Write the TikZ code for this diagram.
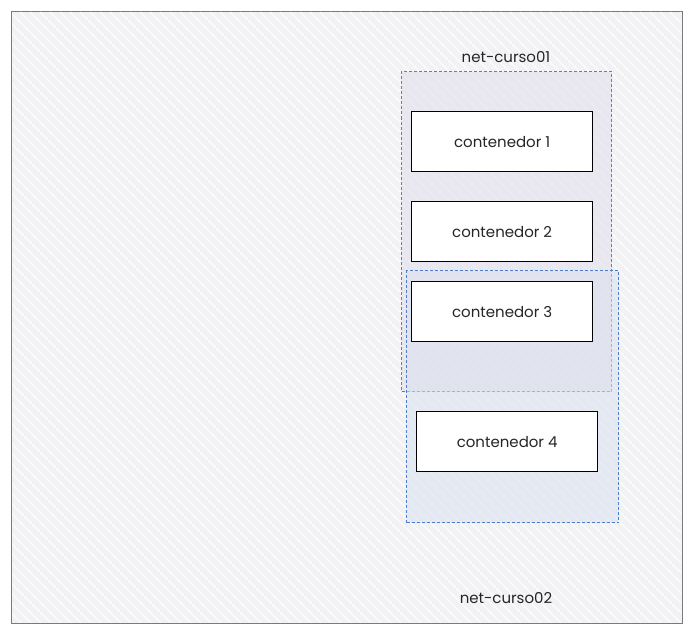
\documentclass[tikz,border=0pt]{standalone}
\usepackage{fontspec}
\setmainfont{Poppins}
\definecolor{framegray}{HTML}{7A7A7A}
\definecolor{bgfill}{HTML}{F2F2F4}
\definecolor{purp}{HTML}{9B5FC0}
\definecolor{purpfill}{HTML}{E1DDEB}
\definecolor{blu}{HTML}{4A7FD0}
\definecolor{blufill}{HTML}{DAE0EE}
\tikzset{
  frame/.style={draw=framegray, line width=1.2pt, fill=bgfill},
  netbox/.style={draw, dashed, line width=1pt, dash pattern=on 3pt off 2pt, fill opacity=0.55, text opacity=1},
  ctr/.style={draw=black, line width=1.3pt, fill=white, minimum width=181pt, minimum height=60pt, font=\fontsize{15}{17}\selectfont, text=black!85, inner sep=0pt},
  netlabel/.style={font=\fontsize{15}{17}\selectfont, text=black!85},
  hatch/.style={white, line width=1.2pt, opacity=0.8}
}
\begin{document}
\begin{tikzpicture}[x=1pt,y=-1pt]
\useasboundingbox (0,0) rectangle (693,634);
\node[frame, minimum width=671pt, minimum height=612pt, inner sep=0pt, anchor=north west] (outer) at (11,11) {};
\begin{scope}
\clip (12,12) rectangle (681,622);
\foreach \i in {-700,-690,...,700} {
  \draw[hatch] (\i,12) -- ++(620,620);
}
\end{scope}
\node[netbox, draw=purp, fill=purpfill, minimum width=210pt, minimum height=320pt, anchor=north west, inner sep=0pt] (net1) at (401,71) {};
\node[netbox, draw=blu, fill=blufill, minimum width=212pt, minimum height=252pt, anchor=north west, inner sep=0pt] (net2) at (406,270) {};
\node[netlabel] (lab1) at (506,57) {net-curso01};
\node[netlabel] (lab2) at (506,598) {net-curso02};
\node[ctr, anchor=north west] (c1) at (411,111) {contenedor 1};
\node[ctr, anchor=north west] (c2) at (411,201) {contenedor 2};
\node[ctr, anchor=north west] (c3) at (411,281) {contenedor 3};
\node[ctr, anchor=north west] (c4) at (416,411) {contenedor 4};
\end{tikzpicture}
\end{document}
